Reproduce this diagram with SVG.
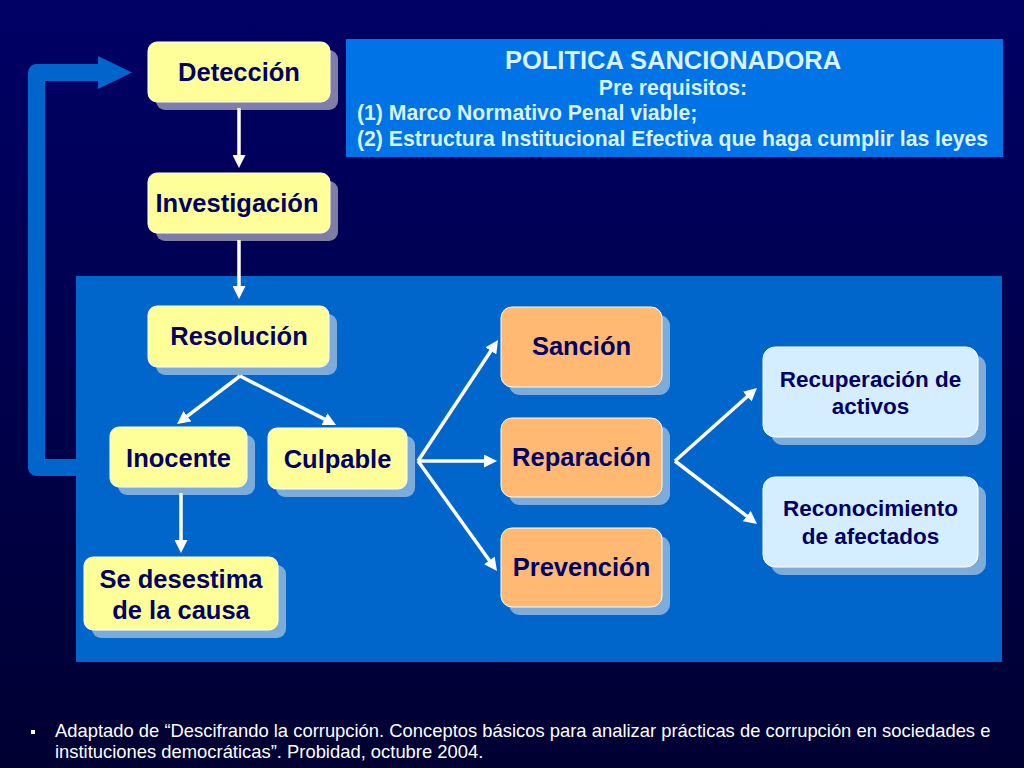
<svg xmlns="http://www.w3.org/2000/svg" width="1024" height="768" viewBox="0 0 1024 768">
<defs>
<linearGradient id="bg" x1="0" y1="0" x2="0" y2="1">
<stop offset="0" stop-color="#000066"/>
<stop offset="1" stop-color="#000033"/>
</linearGradient>
<marker id="ah" markerUnits="userSpaceOnUse" markerWidth="13" markerHeight="13" refX="5" refY="6.5" orient="auto">
<path d="M0,0 L13,6.5 L0,13 z" fill="#FFFFFF"/>
</marker>
</defs>
<style>
.sh{fill:#E6E6E6;fill-opacity:0.55}
.y{fill:#FFFF99;stroke:#FFFFFF;stroke-width:1}
.o{fill:#FFB973;stroke:#FFFFFF;stroke-width:1}
.b{fill:#D4EEFF;stroke:#FFFFFF;stroke-width:1}
.t{font-family:"Liberation Sans",Arial,sans-serif;font-weight:bold;fill:#000066;text-anchor:middle}
.t25{font-size:25.5px}
.t22{font-size:22.5px}
.cn{stroke:#FFFFFF;stroke-width:3.5;fill:none;marker-end:url(#ah)}
.hd{font-family:"Liberation Sans",Arial,sans-serif;font-weight:bold;fill:#D9F2FF}
.ft{font-family:"Liberation Sans",Arial,sans-serif;font-size:18.4px;fill:#FFFFFF}
</style>
<rect x="0" y="0" width="1024" height="768" fill="url(#bg)"/>
<rect id="panel" x="76" y="276" width="926" height="386" fill="#0066CC"/>
<g id="politica">
<rect x="346" y="39" width="657" height="118" fill="#0073E6"/>
<text class="hd" x="673" y="69" font-size="25.5" text-anchor="middle">POLITICA SANCIONADORA</text>
<text class="hd" x="673" y="95" font-size="21.2" text-anchor="middle">Pre requisitos:</text>
<text class="hd" x="357" y="120" font-size="21.2">(1) Marco Normativo Penal viable;</text>
<text class="hd" x="357" y="146" font-size="21.2">(2) Estructura Institucional Efectiva que haga cumplir las leyes</text>
</g>
<g id="connectors">
<path d="M76,467.5 H36.5 V72.5 H100" fill="none" stroke="#0066CC" stroke-width="17" stroke-linejoin="round"/>
<polygon points="98,56 132,72.5 98,89" fill="#0066CC"/>
<line class="cn" x1="239" y1="108" x2="239" y2="160"/>
<line class="cn" x1="239" y1="240" x2="239" y2="291"/>
<line class="cn" x1="240" y1="376" x2="183.4" y2="419.2"/>
<line class="cn" x1="240" y1="376" x2="328.9" y2="421.4"/>
<line class="cn" x1="181" y1="493" x2="181" y2="545"/>
<line class="cn" x1="418" y1="461" x2="493.6" y2="346.7"/>
<line class="cn" x1="418" y1="461" x2="489" y2="461"/>
<line class="cn" x1="418" y1="461" x2="492.3" y2="564.5"/>
<line class="cn" x1="675" y1="461" x2="751" y2="393.3"/>
<line class="cn" x1="675" y1="461" x2="750.7" y2="519.1"/>
</g>
<g id="deteccion">
<rect class="sh" x="156" y="50" width="182" height="60" rx="9"/>
<rect class="y" x="148" y="42" width="182" height="60" rx="9"/>
<text class="t t25" x="239" y="81">Detección</text>
</g>
<g id="investigacion">
<rect class="sh" x="156" y="181" width="182" height="60" rx="9"/>
<rect class="y" x="148" y="173" width="182" height="60" rx="9"/>
<text class="t t25" x="237" y="212">Investigación</text>
</g>
<g id="resolucion">
<rect class="sh" x="156" y="314" width="181" height="61" rx="9"/>
<rect class="y" x="148" y="306" width="181" height="61" rx="9"/>
<text class="t t25" x="239" y="345">Resolución</text>
</g>
<g id="inocente">
<rect class="sh" x="118" y="435" width="137" height="60" rx="9"/>
<rect class="y" x="110" y="427" width="137" height="60" rx="9"/>
<text class="t t25" x="178.5" y="467">Inocente</text>
</g>
<g id="culpable">
<rect class="sh" x="276" y="436" width="139" height="61" rx="9"/>
<rect class="y" x="268" y="428" width="139" height="61" rx="9"/>
<text class="t t25" x="337.5" y="468">Culpable</text>
</g>
<g id="desestima">
<rect class="sh" x="92" y="565" width="194" height="73" rx="9"/>
<rect class="y" x="84" y="557" width="194" height="73" rx="9"/>
<text class="t t25" x="181" y="588">Se desestima</text>
<text class="t t25" x="181" y="619">de la causa</text>
</g>
<g id="sancion">
<rect class="sh" x="509" y="315" width="161" height="80" rx="11"/>
<rect class="o" x="501" y="307" width="161" height="80" rx="11"/>
<text class="t t25" x="581.5" y="355">Sanción</text>
</g>
<g id="reparacion">
<rect class="sh" x="509" y="426" width="161" height="79" rx="11"/>
<rect class="o" x="501" y="418" width="161" height="79" rx="11"/>
<text class="t t25" x="581.5" y="466">Reparación</text>
</g>
<g id="prevencion">
<rect class="sh" x="509" y="536" width="161" height="79" rx="11"/>
<rect class="o" x="501" y="528" width="161" height="79" rx="11"/>
<text class="t t25" x="581.5" y="576">Prevención</text>
</g>
<g id="recuperacion">
<rect class="sh" x="771" y="355" width="215" height="90" rx="12"/>
<rect class="b" x="763" y="347" width="215" height="90" rx="12"/>
<text class="t t22" x="870.5" y="387">Recuperación de</text>
<text class="t t22" x="870.5" y="414">activos</text>
</g>
<g id="reconocimiento">
<rect class="sh" x="771" y="485" width="215" height="90" rx="12"/>
<rect class="b" x="763" y="477" width="215" height="90" rx="12"/>
<text class="t t22" x="870.5" y="516">Reconocimiento</text>
<text class="t t22" x="870.5" y="544">de afectados</text>
</g>
<g id="footer">
<rect x="31" y="730" width="4" height="4" fill="#FFFFFF"/>
<text class="ft" x="55" y="737">Adaptado de “Descifrando la corrupción. Conceptos básicos para analizar prácticas de corrupción en sociedades e</text>
<text class="ft" x="55" y="758">instituciones democráticas”. Probidad, octubre 2004.</text>
</g>
</svg>
